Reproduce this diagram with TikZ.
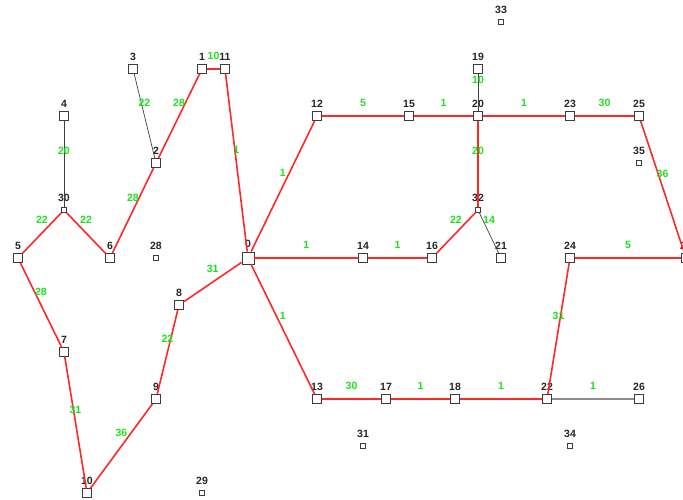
\documentclass[tikz,border=0pt]{standalone}
\usepackage{fontspec}
\setmainfont{Liberation Sans}
\definecolor{edgered}{RGB}{255,40,40}
\definecolor{labgreen}{RGB}{30,225,30}
\definecolor{nodegray}{RGB}{60,60,60}
\begin{document}
\begin{tikzpicture}[x=1pt,y=-1pt,
  font=\fontsize{10.5}{12}\selectfont\bfseries,
  vtx/.style={draw=nodegray,line width=0.8pt,fill=white,rectangle,inner sep=0pt,minimum size=9pt,
    label={[anchor=center,label distance=7.5pt,text=black!85]90:#1}},
  svtx/.style={draw=nodegray,line width=0.7pt,fill=white,rectangle,inner sep=0pt,minimum size=5pt,
    label={[anchor=center,label distance=9.5pt,text=black!85]90:#1}},
  bvtx/.style={draw=nodegray,line width=0.9pt,fill=white,rectangle,inner sep=0pt,minimum size=12pt,
    label={[anchor=center,label distance=8pt,text=black!85]90:#1}},
  redline/.style={draw=edgered,line width=1.6pt},
  thinline/.style={draw=black!75,line width=0.7pt},
  grayline/.style={draw=black!45,line width=1.6pt},
  elab/.style={midway,yshift=13pt,text=labgreen,inner sep=0pt}
]
\useasboundingbox (0,0) rectangle (683,499);
% nodes
\node[bvtx=0] (n0) at (248,258) {};
\node[vtx=1] (n1) at (202,69) {};
\node[vtx=2] (n2) at (156,163) {};
\node[vtx=3] (n3) at (133,69) {};
\node[vtx=4] (n4) at (64,116) {};
\node[vtx=5] (n5) at (18,258) {};
\node[vtx=6] (n6) at (110,258) {};
\node[vtx=7] (n7) at (64,352) {};
\node[vtx=8] (n8) at (179,305) {};
\node[vtx=9] (n9) at (156,399) {};
\node[vtx=10] (n10) at (87,493) {};
\node[vtx=11] (n11) at (225,69) {};
\node[vtx=12] (n12) at (317,116) {};
\node[vtx=13] (n13) at (317,399) {};
\node[vtx=14] (n14) at (363,258) {};
\node[vtx=15] (n15) at (409,116) {};
\node[vtx=16] (n16) at (432,258) {};
\node[vtx=17] (n17) at (386,399) {};
\node[vtx=18] (n18) at (455,399) {};
\node[vtx=19] (n19) at (478,69) {};
\node[vtx=20] (n20) at (478,116) {};
\node[vtx=21] (n21) at (501,258) {};
\node[vtx=22] (n22) at (547,399) {};
\node[vtx=23] (n23) at (570,116) {};
\node[vtx=24] (n24) at (570,258) {};
\node[vtx=25] (n25) at (639,116) {};
\node[vtx=26] (n26) at (639,399) {};
\node[vtx=27] (n27) at (686,258) {};
\node[svtx=28] (n28) at (156,258) {};
\node[svtx=29] (n29) at (202,493) {};
\node[svtx=30] (n30) at (64,210) {};
\node[svtx=31] (n31) at (363,446) {};
\node[svtx=32] (n32) at (478,210) {};
\node[svtx=33] (n33) at (501,22) {};
\node[svtx=34] (n34) at (570,446) {};
\node[svtx=35] (n35) at (639,163) {};
% edges
\draw[redline] (n1) -- node[elab]{10} (n11);
\draw[redline] (n11) -- node[elab]{1} (n0);
\draw[redline] (n1) -- node[elab]{28} (n2);
\draw[thinline] (n3) -- node[elab]{22} (n2);
\draw[redline] (n2) -- node[elab]{28} (n6);
\draw[thinline] (n4) -- node[elab]{20} (n30);
\draw[redline] (n30) -- node[elab]{22} (n5);
\draw[redline] (n30) -- node[elab]{22} (n6);
\draw[redline] (n5) -- node[elab]{28} (n7);
\draw[redline] (n7) -- node[elab]{31} (n10);
\draw[redline] (n10) -- node[elab]{36} (n9);
\draw[redline] (n9) -- node[elab]{22} (n8);
\draw[redline] (n8) -- node[elab]{31} (n0);
\draw[redline] (n0) -- node[elab]{1} (n12);
\draw[redline] (n0) -- node[elab]{1} (n14);
\draw[redline] (n14) -- node[elab]{1} (n16);
\draw[redline] (n16) -- node[elab]{22} (n32);
\draw[thinline] (n32) -- node[elab]{14} (n21);
\draw[redline] (n32) -- node[elab]{20} (n20);
\draw[thinline] (n19) -- node[elab]{10} (n20);
\draw[redline] (n12) -- node[elab]{5} (n15);
\draw[redline] (n15) -- node[elab]{1} (n20);
\draw[redline] (n20) -- node[elab]{1} (n23);
\draw[redline] (n23) -- node[elab]{30} (n25);
\draw[redline] (n25) -- node[elab]{36} (n27);
\draw[redline] (n24) -- node[elab]{5} (n27);
\draw[redline] (n24) -- node[elab]{31} (n22);
\draw[redline] (n0) -- node[elab]{1} (n13);
\draw[redline] (n13) -- node[elab]{30} (n17);
\draw[redline] (n17) -- node[elab]{1} (n18);
\draw[redline] (n18) -- node[elab]{1} (n22);
\draw[grayline] (n22) -- node[elab]{1} (n26);
\end{tikzpicture}
\end{document}
